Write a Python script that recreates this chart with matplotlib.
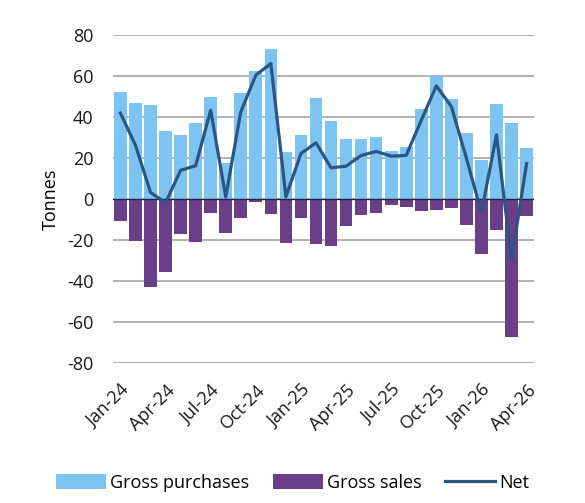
import matplotlib
matplotlib.use("Agg")
import matplotlib.pyplot as plt
import numpy as np

months = ["Jan-24", "Feb-24", "Mar-24", "Apr-24", "May-24", "Jun-24", "Jul-24", "Aug-24",
          "Sep-24", "Oct-24", "Nov-24", "Dec-24", "Jan-25", "Feb-25", "Mar-25", "Apr-25",
          "May-25", "Jun-25", "Jul-25", "Aug-25", "Sep-25", "Oct-25", "Nov-25", "Dec-25",
          "Jan-26", "Feb-26", "Mar-26", "Apr-26"]
gross_purchases = [52.4, 46.7, 46.0, 33.3, 31.5, 37.1, 49.9, 17.7, 51.9, 62.3, 73.5, 22.8,
                   31.5, 49.3, 38.0, 29.6, 29.6, 30.1, 23.6, 25.3, 44.1, 60.0, 49.1, 32.5,
                   19.3, 46.3, 37.4, 25.2]
gross_sales = [-10.8, -20.4, -42.8, -35.5, -17.2, -20.9, -6.9, -16.7, -9.2, -1.5, -7.3, -21.4,
               -9.0, -22.0, -22.9, -12.9, -7.7, -6.5, -2.6, -3.7, -5.7, -5.1, -4.1, -12.7,
               -26.5, -14.9, -67.3, -8.0]
net = [42.0, 26.3, 3.3, -1.8, 14.1, 16.3, 43.4, 1.1, 42.6, 60.5, 66.2, 1.2,
       22.3, 27.5, 15.3, 16.1, 21.3, 23.3, 21.0, 21.4, 38.5, 55.3, 45.2, 20.0,
       -6.5, 31.4, -29.5, 17.4]
tick_labels = months[::3]

plt.rcParams["font.family"] = ["Open Sans", "DejaVu Sans"]
plt.rcParams["axes.unicode_minus"] = False

fig = plt.figure(figsize=(5.85, 5.03), dpi=100)
ax = fig.add_axes([0.193, 0.278, 0.72, 0.652])

x = np.arange(len(months))
ax.bar(x, gross_purchases, width=0.84, color="#7DC4F3", label="Gross purchases", zorder=2)
ax.bar(x, gross_sales, width=0.84, color="#6B3E8A", label="Gross sales", zorder=2)
ax.axhline(0, color="#22223a", lw=1.0, zorder=3)
ax.plot(x, net, color="#2B5583", lw=2.3, label="Net", zorder=4)

ax.set_xlim(-0.5, len(months) - 0.5)
ax.set_ylim(-80, 80)
ax.set_yticks(range(-80, 81, 20))
ax.grid(axis="y", color="#A6A6A6", lw=1.2, zorder=0)
ax.set_axisbelow(True)
for s in ax.spines.values():
    s.set_visible(False)

ax.set_xticks(x[::3])
ax.set_xticklabels(tick_labels, rotation=45, ha="right", rotation_mode="anchor")
ax.tick_params(axis="both", length=0, labelsize=13, colors="#1a1a1a")
ax.tick_params(axis="y", pad=14)
ax.tick_params(axis="x", pad=13)
ax.set_ylabel("Tonnes", fontsize=13, labelpad=5)

handles, labels = ax.get_legend_handles_labels()
order = [1, 2, 0]
fig.legend([handles[i] for i in order], [labels[i] for i in order],
           loc="center", bbox_to_anchor=(0.5, 0.04), ncol=3, frameon=False,
           fontsize=13, handlelength=2.8, handleheight=0.9, handletextpad=0.2,
           columnspacing=1.3)

fig.savefig("out.png", dpi=100)
